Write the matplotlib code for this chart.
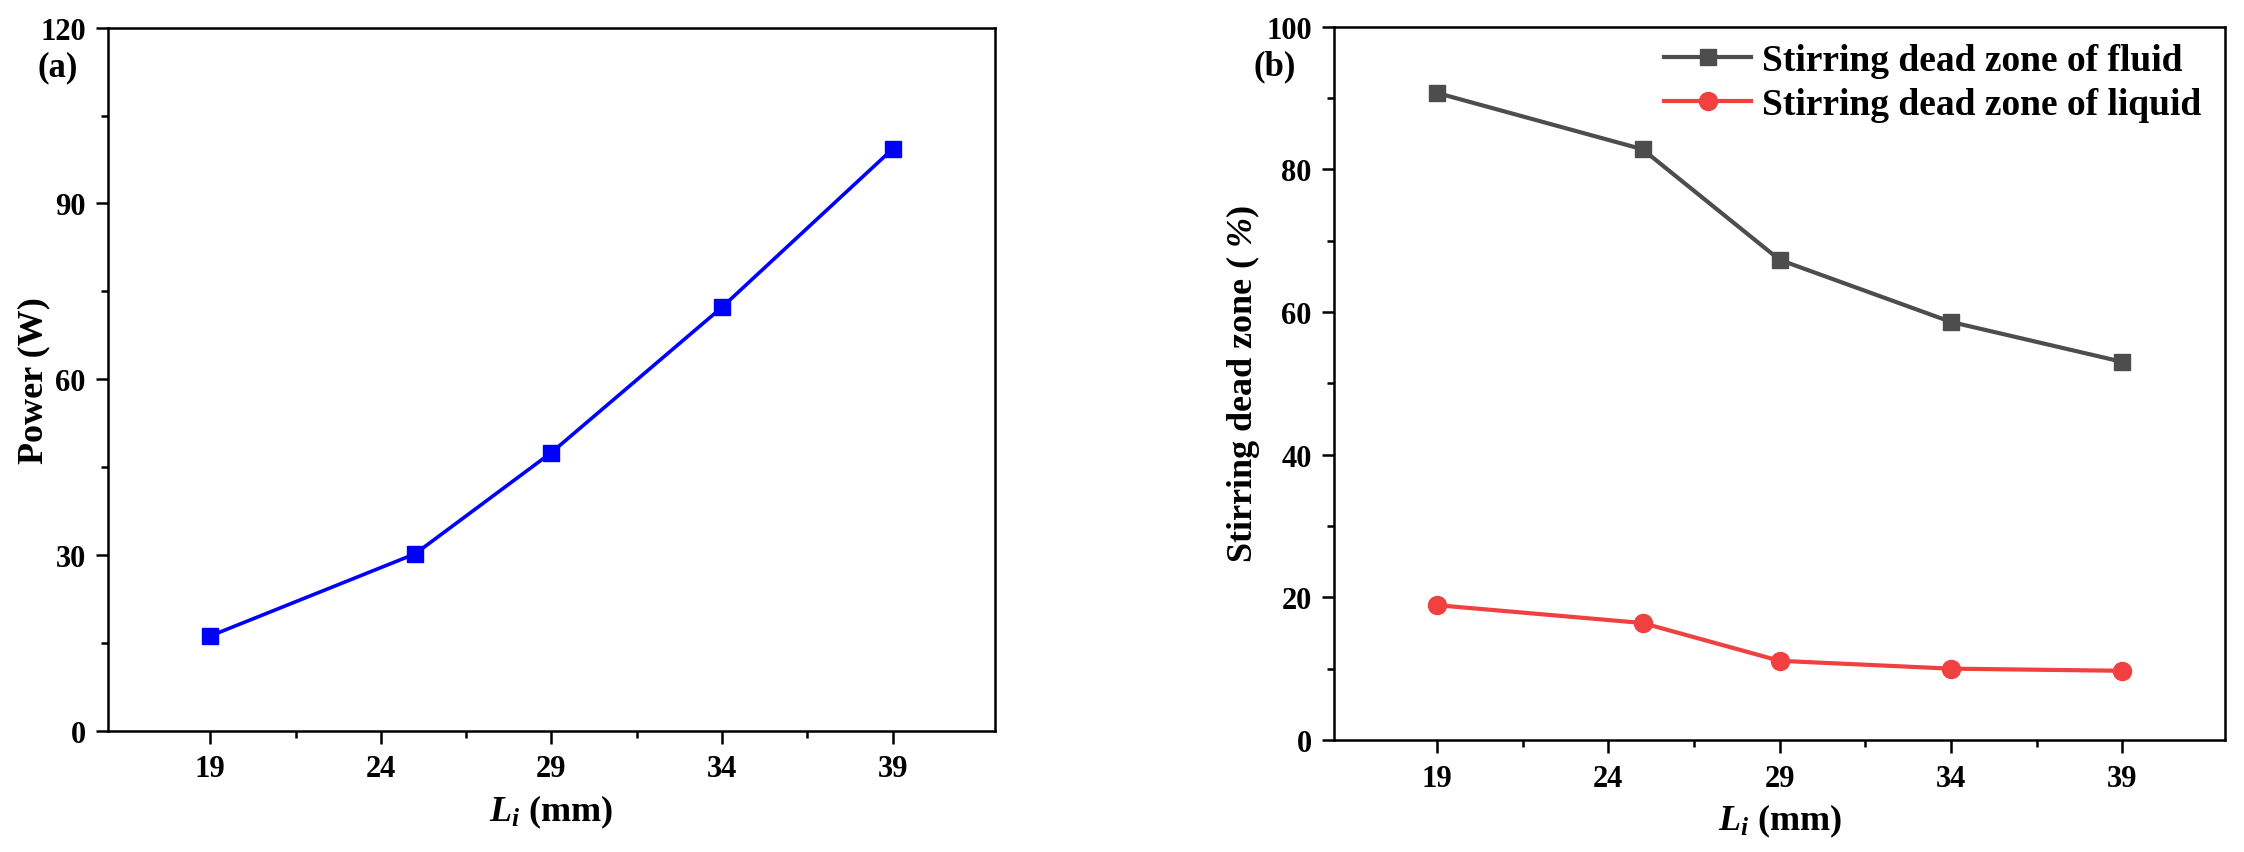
import matplotlib
matplotlib.use("Agg")
import matplotlib.pyplot as plt
from matplotlib.ticker import FixedLocator

# data
li = [19, 25, 29, 34, 39]
power = [16.2, 30.2, 47.5, 72.3, 99.3]
dead_fluid = [90.7, 82.8, 67.3, 58.6, 53.0]
dead_liquid = [18.9, 16.4, 11.1, 10.0, 9.7]

x_major = [19, 24, 29, 34, 39]
x_minor = [21.5, 26.5, 31.5, 36.5]

plt.rcParams['font.family'] = ['Liberation Serif', 'DejaVu Serif']
plt.rcParams['font.weight'] = 'bold'
plt.rcParams['mathtext.fontset'] = 'custom'
plt.rcParams['mathtext.it'] = 'Liberation Serif:italic:bold'
# non-letters in math fall back to rm, so the % sign comes out italic too
plt.rcParams['mathtext.rm'] = 'Liberation Serif:italic:bold'
plt.rcParams['mathtext.bf'] = 'Liberation Serif:bold'

fig = plt.figure(figsize=(22.44, 8.53), dpi=100)
ax1 = fig.add_axes([0.0481, 0.142, 0.3953, 0.8244])
ax2 = fig.add_axes([0.5945, 0.1313, 0.3971, 0.8364])


def style(ax, yticks, yminor, ylim):
    for s in ax.spines.values():
        s.set_linewidth(1.8)
    ax.set_xlim(16, 42)
    ax.set_ylim(*ylim)
    ax.xaxis.set_major_locator(FixedLocator(x_major))
    ax.xaxis.set_minor_locator(FixedLocator(x_minor))
    ax.yaxis.set_major_locator(FixedLocator(yticks))
    ax.yaxis.set_minor_locator(FixedLocator(yminor))
    ax.tick_params(which='both', direction='out', width=1.8, top=False, right=False)
    ax.tick_params(which='major', length=9)
    ax.tick_params(which='minor', length=5)
    ax.tick_params(axis='x', which='major', pad=8, labelsize=22)
    ax.tick_params(axis='y', which='major', pad=7, labelsize=22)
    for lab in ax.get_xticklabels() + ax.get_yticklabels():
        lab.set_fontweight('bold')


# (a) power
ax1.plot(li, power, color='#0000FF', lw=2.6, marker='s', ms=12)
style(ax1, [0, 30, 60, 90, 120], [15, 45, 75, 105], (0, 120))
ax1.set_ylabel('Power (W)', fontsize=26, fontweight='bold')
ax1.set_xlabel(r'$L_i$ (mm)', fontsize=26, fontweight='bold')
ax1.yaxis.set_label_coords(-0.0655, 0.5)
ax1.xaxis.set_label_coords(0.5, -0.088)

# (b) dead zone
ax2.plot(li, dead_fluid, color='#4D4D4D', lw=3, marker='s', ms=11,
         label='Stirring dead zone of fluid')
ax2.plot(li, dead_liquid, color='#F04040', lw=3, marker='o', ms=13,
         label='Stirring dead zone of liquid')
style(ax2, [0, 20, 40, 60, 80, 100], [10, 30, 50, 70, 90], (0, 100))
ax2.set_ylabel(r'Stirring dead zone ( $\%$)', fontsize=26, fontweight='bold')
ax2.set_xlabel(r'$L_i$ (mm)', fontsize=26, fontweight='bold')
ax2.yaxis.set_label_coords(-0.0806, 0.5)
ax2.xaxis.set_label_coords(0.5, -0.087)
ax2.legend(loc='upper right', bbox_to_anchor=(0.99, 0.998), borderaxespad=0,
           frameon=False, handlelength=2.3, handletextpad=0.3, labelspacing=0.25,
           prop={'size': 27, 'weight': 'bold'})

fig.text(0.0258, 0.9205, '(a)', fontsize=25, fontweight='bold', ha='center', va='center')
fig.text(0.568, 0.922, '(b)', fontsize=25, fontweight='bold', ha='center', va='center')

fig.savefig('out.png', dpi=100)
